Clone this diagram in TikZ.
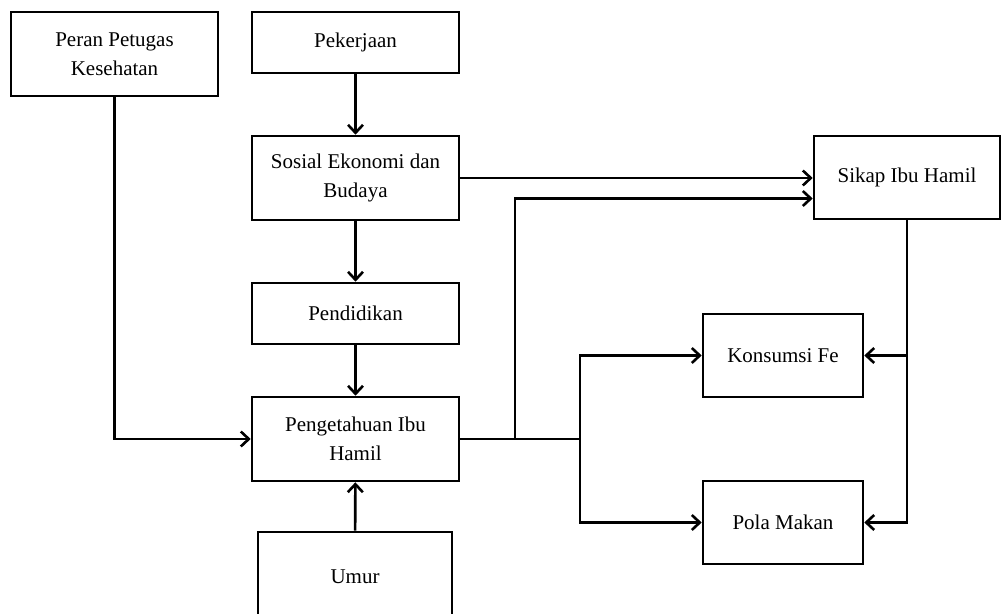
\documentclass[tikz,border=0pt]{standalone}
\usepackage{fontspec}
\setmainfont{Liberation Serif}
\usepackage{tikz}
\usetikzlibrary{arrows.meta}

\begin{document}
\begin{tikzpicture}[x=0.5pt,y=-0.5pt,line width=1.3pt,
        box/.style = {draw, rectangle, align=center, inner sep=0pt,
            font=\fontsize{10.5}{14.5}\selectfont},
        arr/.style = {-{Straight Barb[length=4pt,width=7.5pt,line width=1.3pt]}}]
        \useasboundingbox (0,0) rectangle (1002,614);

        % Left column
        \node[box,minimum width=103.5pt,minimum height=42pt] (peran) at (114.5,54) {Peran Petugas\\Kesehatan};

        % Middle column
        \node[box,minimum width=103.5pt,minimum height=30.5pt] (pekerjaan) at (355.5,42.5) {Pekerjaan};
        \node[box,minimum width=103.5pt,minimum height=42pt] (sosial) at (355.5,178) {Sosial Ekonomi dan\\Budaya};
        \node[box,minimum width=103.5pt,minimum height=30.5pt] (pendidikan) at (355.5,313.5) {Pendidikan};
        \node[box,minimum width=103.5pt,minimum height=42pt] (pengetahuan) at (355.5,439) {Pengetahuan Ibu\\Hamil};
        \node[box,minimum width=97pt,minimum height=45pt] (umur) at (355,577) {Umur};

        % Right column
        \node[box,minimum width=93pt,minimum height=41.5pt] (sikap) at (907,177.5) {Sikap Ibu Hamil};
        \node[box,minimum width=80pt,minimum height=41.5pt] (konsumsi) at (783,355.5) {Konsumsi Fe};
        \node[box,minimum width=80pt,minimum height=41.5pt] (pola) at (783,522.5) {Pola Makan};

        % Branch points
        \coordinate (j1) at (515,439);
        \coordinate (j2) at (580,439);

        % Vertical arrows
        \draw[arr] (pekerjaan) -- (sosial);
        \draw[arr] (sosial) -- (pendidikan);
        \draw[arr] (pendidikan) -- (pengetahuan);
        \draw[arr] (umur) -- (pengetahuan);
        \draw[arr] (peran.south) |- (pengetahuan.west);

        % To Sikap Ibu Hamil
        \draw[arr] (sosial.east) -- (sosial.east -| sikap.west);
        \draw (pengetahuan.east) -- (j2);
        \draw[arr] (j1) |- ([yshift=-10.5pt]sikap.west);

        % To Konsumsi Fe and Pola Makan
        \draw[arr] (j2) |- (konsumsi.west);
        \draw[arr] (j2) |- (pola.west);
        \draw[arr] (sikap.south) |- (pola.east);
        \draw[arr] (sikap.south |- konsumsi.east) -- (konsumsi.east);
    \end{tikzpicture}
\end{document}
